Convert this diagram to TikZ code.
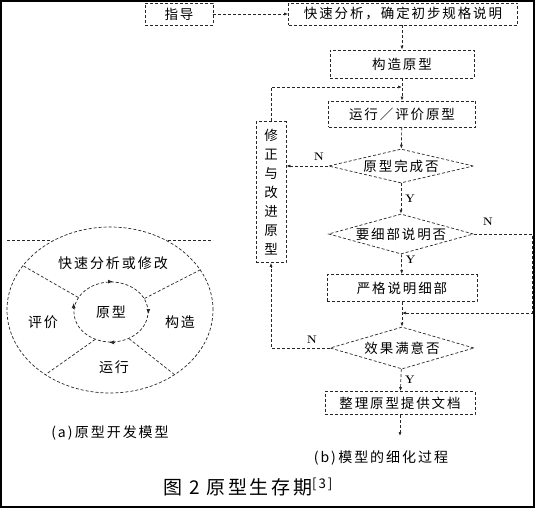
\documentclass[tikz,border=0pt]{standalone}
\usepackage{fontspec}
\newfontfamily\cjk[LetterSpace=14]{Noto Sans CJK SC}
\usepackage{tikz}
\usetikzlibrary{shapes.geometric, arrows.meta, positioning, calc}

\begin{document}
\begin{tikzpicture}[x=1pt, y=-1pt,
		box/.style={rectangle, draw=black!85, dash pattern=on 3pt off 2pt, line width=0.7pt,
			inner sep=0pt, align=center, font=\cjk\fontsize{13.5}{16}\selectfont},
		test/.style={diamond, draw=black!85, dash pattern=on 3pt off 2pt, line width=0.7pt,
			aspect=4, inner sep=0pt, font=\cjk\fontsize{13.5}{16}\selectfont},
		flow/.style={draw=black!85, dash pattern=on 3pt off 2pt, line width=0.7pt,
			-{Latex[length=4pt, width=3pt]}},
		plain/.style={draw=black!85, dash pattern=on 3pt off 2pt, line width=0.7pt},
		tip/.style={draw=black!85, line width=0.7pt, -{Latex[length=5pt, width=4pt]}},
		yn/.style={font=\rmfamily\bfseries\fontsize{11}{11}\selectfont, inner sep=0pt},
		part/.style={font=\cjk\fontsize{14}{16}\selectfont, inner sep=0pt}
		]
		\useasboundingbox (0,0) rectangle (536,509);
		\draw[line width=1.2pt] (1,1) rectangle (534,507);
		
		% (a) model
		\node[ellipse, plain, minimum width=206pt, minimum height=166pt] (cycle) at (110,310) {};
		\node[ellipse, plain, minimum width=74pt, minimum height=60pt, part] (proto) at (111,312) {原型};
		\draw[tip] ($(proto.north)+(-3,0)$) -- ($(proto.north)+(2,0)$);
		\draw[tip] ($(proto.east)+(0,-3)$) -- ($(proto.east)+(0,2)$);
		\draw[tip] ($(proto.south)+(3,0)$) -- ($(proto.south)+(-2,0)$);
		\draw[tip] ($(proto.west)+(0,-4)$) -- ($(proto.west)+(0,-9)$);
		\draw[plain] (proto.156) -- (cycle.153);
		\draw[plain] (proto.22) -- (cycle.24);
		\draw[plain] (proto.240) -- (cycle.225);
		\draw[plain] (proto.304) -- (cycle.315);
		\coordinate (topl) at (7,240);
		\coordinate (topr) at (213,240);
		\draw[plain] (topl) -- (52,240);
		\draw[plain] (168,240) -- (topr);
		\node[part] (analyse)   at (113,263) {快速分析或修改};
		\node[part] (evaluate)  at (43,322)  {评价};
		\node[part] (construct) at (180,322) {构造};
		\node[part] (execute)   at (114,367) {运行};
		\node[part] (capa)      at (110,433) {(a)\,原型开发模型};
		
		% (b) flow
		\node[box, minimum width=68pt, minimum height=22pt]  (guide)     at (179,14)  {指导};
		\node[box, minimum width=229pt, minimum height=22pt] (spec)      at (403,14)  {快速分析，确定初步规格说明};
		\node[box, minimum width=144pt, minimum height=28pt] (build)     at (402,64)  {构造原型};
		\node[box, minimum width=147pt, minimum height=26pt] (run)       at (402,114) {运行／评价原型};
		\node[test, minimum width=145pt, minimum height=34pt] (done)     at (401,166) {原型完成否};
		\node[test, minimum width=145pt, minimum height=40pt] (detail)   at (401,234) {要细部说明否};
		\node[box, minimum width=150pt, minimum height=27pt] (strict)    at (402,288) {严格说明细部};
		\node[test, minimum width=144pt, minimum height=42pt] (satisfied) at (402,348) {效果满意否};
		\node[box, minimum width=150pt, minimum height=23pt] (docs)      at (400,403) {整理原型提供文档};
		\node[box, minimum width=30pt, minimum height=141pt,
			font=\cjk\fontsize{13.5}{19}\selectfont] (fix) at (271,192)
		{修\\正\\与\\改\\进\\原\\型};
		
		\coordinate (join)  at (402,87);
		\coordinate (rloop) at (532,313);
		\coordinate (merge) at (402,313);
		\coordinate (out)   at (400,436);
		
		\draw[flow] (guide) -- (spec);
		\draw[flow] (spec.south -| build.north) -- (build.north);
		\draw[flow] (build) -- (run);
		\draw[flow] (fix.north) |- (join);
		\draw[flow] (run) -- (done);
		\draw[flow] (done) -- (fix.east |- done)
		node[yn, pos=0.22, above=5pt] {N};
		\draw[flow] (done) -- (detail)
		node[yn, midway, right=4pt] {Y};
		\draw[flow] (detail) -- (strict)
		node[yn, pos=0.3, right=4pt] {Y};
		\draw[flow] (detail.east) -| (rloop) -- (merge);
		\node[yn] (nr) at (488,222) {N};
		\draw[flow] (strict) -- (satisfied);
		\draw[flow] (satisfied.west) -| (fix.south);
		\node[yn] (nl) at (312,340) {N};
		\draw[flow] (satisfied) -- (docs)
		node[yn, midway, right=4pt] {Y};
		\draw[flow] (docs) -- (out);
		\node[part] (capb) at (381,458) {(b)\,模型的细化过程};
		
		% caption
		\node[font=\cjk\fontsize{19}{20}\selectfont, inner sep=0pt] (title) at (248,487)
		{图 2 原型生存期\textsuperscript{[3]}};
	\end{tikzpicture}
\end{document}
